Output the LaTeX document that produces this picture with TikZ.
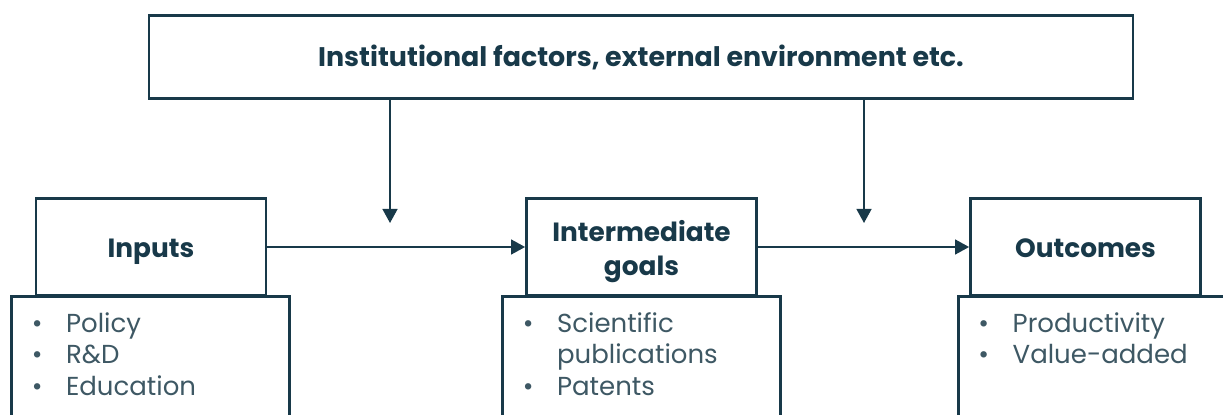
\documentclass[tikz,border=0pt]{standalone}
\usepackage{fontspec}
\setmainfont{Poppins}
\usetikzlibrary{arrows.meta, positioning}
\definecolor{boxblue}{RGB}{24,57,73}
\definecolor{listgrey}{RGB}{62,88,100}
\tikzset{
	head/.style={draw=boxblue, line width=1.5pt, fill=white, text=boxblue, font=\bfseries\fontsize{15}{19.5}\selectfont, align=center, minimum width=131pt, minimum height=55pt, inner sep=0pt},
	oneline/.style={text height=15.4pt, text depth=3pt},
	listbox/.style={draw=boxblue, line width=1.5pt, fill=white, minimum width=158pt, minimum height=80pt, anchor=north, inner sep=0pt},
	items/.style={text=listgrey, font=\fontsize{14.8}{17.8}\selectfont, anchor=north west, inner sep=0pt},
	flow/.style={draw=boxblue, line width=1pt, arrows={-Triangle[length=8pt, width=8.5pt]}}
}
\newcommand{\itm}{\textbullet}

\begin{document}
\begin{tikzpicture}[x=0.02cm, y=-0.02cm]
	\useasboundingbox (0,0) rectangle (1223,415);
	% top box
	\node [head, minimum width=560pt, minimum height=47pt, font=\bfseries\fontsize{15.3}{18}\selectfont] (env) at (641,57) {Institutional factors, external environment etc.};
	% three stages
	\node [head, oneline] (inputs) at (151,247) {Inputs};
	\node [head] (goals) at (641.5,247) {\rule{0pt}{17pt}Intermediate\\goals};
	\node [head, oneline] (outcomes) at (1085.5,247) {Outcomes};
	% lists underneath
	\node [listbox] (inlist) at (150.5,295) {};
	\node [listbox] (goallist) at (641.5,295) {};
	\node [listbox, minimum width=180pt, anchor=north west] (outlist) at (957,295) {};
	\node [items] (inputsitems) at ([xshift=12pt, yshift=-8.7pt]inlist.north west) {%
		\begin{tabular}{@{}p{19.5pt}@{}l@{}}\itm & Policy\\ \itm & R\&D\\ \itm & Education\end{tabular}};
	\node [items] (goalsitems) at ([xshift=12pt, yshift=-8.7pt]goallist.north west) {%
		\begin{tabular}{@{}p{19.5pt}@{}l@{}}\itm & Scientific\\ & publications\\ \itm & Patents\end{tabular}};
	\node [items] (outitems) at ([xshift=12pt, yshift=-8.7pt]outlist.north west) {%
		\begin{tabular}{@{}p{19.5pt}@{}l@{}}\itm & Productivity\\ \itm & Value-added\end{tabular}};
	% arrows
	\coordinate (c1) at (390,223);
	\coordinate (c2) at (864,223);
	\draw [flow] (inputs) -- (goals);
	\draw [flow] (goals) -- (outcomes);
	\draw [flow] (env.south -| c1) -- (c1);
	\draw [flow] (env.south -| c2) -- (c2);
\end{tikzpicture}
\end{document}
